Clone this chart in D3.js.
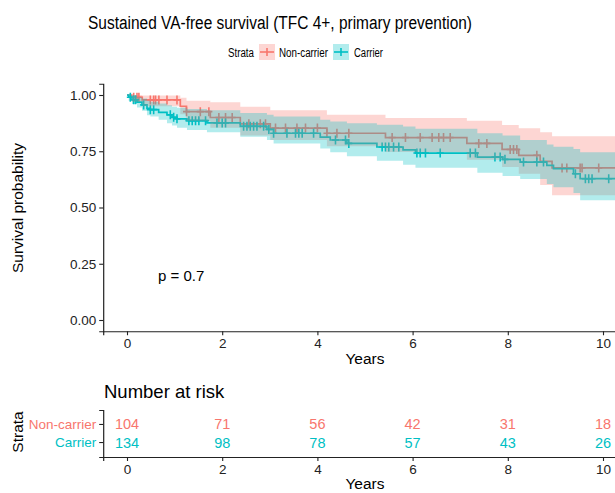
<!DOCTYPE html>
<html>
<head>
<meta charset="utf-8">
<script src="https://cdn.jsdelivr.net/npm/d3@7"></script>
<style>
  body { margin: 0; background: #fff; }
  svg { display: block; font-family: "Liberation Sans", Arial, sans-serif; }
</style>
</head>
<body>
<svg id="chart" width="615" height="493"></svg>
<script>
// Kaplan-Meier steps: [time, surv, lower, upper]
const nonCarrierSteps = [
    [0, 1, 1, 1],
    [0.1, 0.99, 0.97, 1.0],
    [0.32, 0.978, 0.95, 0.998],
    [1.12, 0.95, 0.915, 0.988],
    [1.25, 0.926, 0.885, 0.975],
    [1.75, 0.9, 0.855, 0.968],
    [2.38, 0.872, 0.82, 0.948],
    [3.01, 0.853, 0.8, 0.932],
    [4.2, 0.83, 0.772, 0.912],
    [5.43, 0.811, 0.747, 0.898],
    [7.14, 0.785, 0.712, 0.886],
    [7.88, 0.758, 0.68, 0.867],
    [8.23, 0.732, 0.65, 0.852],
    [8.68, 0.705, 0.6, 0.835],
    [8.93, 0.676, 0.555, 0.817]
];
const carrierSteps = [
    [0, 1, 1, 1],
    [0.035, 0.99, 0.975, 1.0],
    [0.105, 0.979, 0.96, 0.998],
    [0.21, 0.968, 0.945, 0.99],
    [0.315, 0.956, 0.93, 0.985],
    [0.42, 0.941, 0.91, 0.975],
    [0.49, 0.935, 0.905, 0.97],
    [0.665, 0.923, 0.89, 0.962],
    [0.84, 0.912, 0.875, 0.955],
    [0.945, 0.901, 0.865, 0.948],
    [1.05, 0.894, 0.855, 0.943],
    [1.26, 0.886, 0.845, 0.938],
    [1.68, 0.876, 0.835, 0.932],
    [2.38, 0.861, 0.815, 0.92],
    [2.94, 0.847, 0.8, 0.912],
    [3.08, 0.83, 0.785, 0.905],
    [4.06, 0.813, 0.762, 0.89],
    [4.27, 0.8, 0.746, 0.882],
    [4.62, 0.785, 0.728, 0.875],
    [5.25, 0.769, 0.708, 0.868],
    [5.8, 0.756, 0.69, 0.86],
    [6.06, 0.742, 0.677, 0.85],
    [7.36, 0.724, 0.655, 0.83],
    [7.89, 0.714, 0.64, 0.82],
    [8.26, 0.702, 0.627, 0.8],
    [8.82, 0.687, 0.605, 0.78],
    [8.96, 0.673, 0.59, 0.77],
    [9.38, 0.65, 0.565, 0.76],
    [9.52, 0.628, 0.532, 0.746]
];
// censoring times
const nonCarrierCensor = [0.14, 0.21, 0.25, 0.49, 0.56, 0.6, 0.67, 0.84, 1.05, 1.25, 1.54, 1.72, 1.93, 2.07, 2.21,
    2.56, 2.8, 2.91, 3.12, 3.33, 3.57, 3.75, 4.0, 4.2, 4.41, 4.66, 5.57, 5.85, 6.16, 6.41, 6.55, 6.65, 6.79,
    7.39, 7.56, 8.05, 8.12, 8.19, 8.61, 9.14, 9.24, 9.52, 9.56, 9.91];
const carrierCensor = [0.07, 0.14, 0.18, 0.35, 0.49, 0.56, 0.91, 0.98, 1.05, 1.3, 1.37, 1.44, 1.51, 1.65, 1.89,
    2.0, 2.07, 2.45, 2.52, 2.59, 2.66, 2.73, 2.87, 2.98, 3.08, 3.36, 3.54, 3.61, 3.68, 3.92, 4.38, 4.59, 4.66,
    5.36, 5.43, 5.5, 5.6, 5.71, 6.09, 6.16, 6.27, 6.58, 7.21, 7.32, 7.73, 7.84, 7.94, 8.33, 8.61, 8.75,
    9.42, 9.63, 9.7, 9.77, 10.12];

const strataNames = ["Non-carrier", "Carrier"];
const riskTimes = [0, 2, 4, 6, 8, 10];
const riskNonCarrier = [104, 71, 56, 42, 31, 18];
const riskCarrier = [134, 98, 78, 57, 43, 26];
const yTicks = [0, 0.25, 0.5, 0.75, 1];

const colors = { "Non-carrier": "#F8766D", "Carrier": "#00BFC4" };
const tMax = 11.5;

const svg = d3.select("#chart");

const x = d3.scaleLinear().domain([-0.5, tMax]).range([103.2, 103.2 + 12 * 47.6]);
const y = d3.scaleLinear().domain([-0.05, 1.05]).range([331.25, 83.75]);

const series = [
    { name: "Non-carrier", steps: nonCarrierSteps, censor: nonCarrierCensor },
    { name: "Carrier", steps: carrierSteps, censor: carrierCensor }
];

// extend last step to the right edge
series.forEach((s) => {
    const last = s.steps[s.steps.length - 1];
    s.pts = s.steps.concat([[tMax, last[1], last[2], last[3]]]);
});

const survAt = (steps, t) => {
    let v = steps[0][1];
    steps.forEach((d) => { if (d[0] <= t) v = d[1]; });
    return v;
};

// title (the original font runs narrower than Liberation Sans)
svg.append("text")
    .attr("x", 88).attr("y", 29)
    .attr("font-size", 18)
    .attr("textLength", 384).attr("lengthAdjust", "spacingAndGlyphs")
    .attr("fill", "#000")
    .text("Sustained VA-free survival (TFC 4+, primary prevention)");

// legend
const legend = svg.append("g").attr("transform", "translate(0,52)");
legend.append("text").attr("x", 228).attr("y", 4.5).attr("font-size", 12.5)
    .attr("textLength", 26).attr("lengthAdjust", "spacingAndGlyphs").text("Strata");
const legendItems = [
    { name: "Non-carrier", kx: 259, tx: 279, w: 49 },
    { name: "Carrier", kx: 333, tx: 354, w: 29 }
];
legendItems.forEach((it) => {
    legend.append("rect").attr("x", it.kx).attr("y", -8).attr("width", 16).attr("height", 16)
        .attr("fill", colors[it.name]).attr("fill-opacity", 0.3);
    legend.append("line").attr("x1", it.kx + 1).attr("x2", it.kx + 15).attr("y1", 0).attr("y2", 0)
        .attr("stroke", colors[it.name]).attr("stroke-width", 1.6);
    legend.append("line").attr("x1", it.kx + 8).attr("x2", it.kx + 8).attr("y1", -4).attr("y2", 4)
        .attr("stroke", colors[it.name]).attr("stroke-width", 1.6);
    legend.append("text").attr("x", it.tx).attr("y", 4.5).attr("font-size", 12.5)
        .attr("textLength", it.w).attr("lengthAdjust", "spacingAndGlyphs").text(it.name);
});

// plot area
svg.append("clipPath").attr("id", "clip")
    .append("rect").attr("x", 103).attr("y", 60).attr("width", 520).attr("height", 280);
const plot = svg.append("g").attr("clip-path", "url(#clip)");

const line = d3.line().curve(d3.curveStepAfter).x((d) => x(d[0])).y((d) => y(d[1]));
const area = d3.area().curve(d3.curveStepAfter).x((d) => x(d[0])).y0((d) => y(d[2])).y1((d) => y(d[3]));

series.forEach((s) => {
    plot.append("path").datum(s.pts).attr("d", line)
        .attr("fill", "none").attr("stroke", colors[s.name]).attr("stroke-width", 1.7);
    plot.append("g").selectAll("path").data(s.censor).join("path")
        .attr("d", (t) => {
            const cx = x(t), cy = y(survAt(s.steps, t));
            return `M${cx - 3.5},${cy}H${cx + 3.5}M${cx},${cy - 4.5}V${cy + 4.5}`;
        })
        .attr("stroke", colors[s.name]).attr("stroke-width", 1.6);
});
series.forEach((s) => {
    plot.append("path").datum(s.pts).attr("d", area)
        .attr("fill", colors[s.name]).attr("fill-opacity", 0.3).attr("stroke", "none");
});

// axes
const axisStyle = (g) => {
    g.select(".domain").attr("stroke", "#222").attr("stroke-width", 1.2);
    g.selectAll(".tick line").attr("stroke", "#222").attr("stroke-width", 1.1);
    g.selectAll(".tick text").attr("fill", "#222").attr("font-size", 13.5)
        .attr("font-family", "Liberation Sans, Arial, sans-serif");
};

svg.append("g").attr("transform", "translate(103.2,0)")
    .call(d3.axisLeft(y).tickValues(yTicks).tickFormat(d3.format(".2f")).tickSizeOuter(0).tickSize(4).tickPadding(3))
    .call(axisStyle);
svg.append("g").attr("transform", "translate(0,331.25)")
    .call(d3.axisBottom(x).tickValues(riskTimes).tickSizeOuter(0).tickSize(4).tickPadding(3))
    .call(axisStyle);

svg.append("text").attr("x", 365).attr("y", 364).attr("text-anchor", "middle")
    .attr("font-size", 15.5).text("Years");
svg.append("text").attr("transform", "translate(23,208) rotate(-90)").attr("text-anchor", "middle")
    .attr("font-size", 15.5).text("Survival probability");
svg.append("text").attr("x", 158).attr("y", 281).attr("font-size", 15).text("p = 0.7");

// number at risk table
svg.append("text").attr("x", 104).attr("y", 398).attr("font-size", 18.5).text("Number at risk");

const yRisk = d3.scaleBand().domain(strataNames).range([410, 457]).paddingInner(0.1).paddingOuter(0.35);
const riskData = [
    { name: "Non-carrier", values: riskNonCarrier },
    { name: "Carrier", values: riskCarrier }
];
const table = svg.append("g");
riskData.forEach((r) => {
    table.append("g").selectAll("text").data(r.values).join("text")
        .attr("x", (d, i) => x(riskTimes[i]))
        .attr("y", yRisk(r.name) + yRisk.bandwidth() / 2 + 5)
        .attr("text-anchor", "middle")
        .attr("font-size", 14.5)
        .attr("fill", colors[r.name])
        .text((d) => d);
});

const yRiskAxis = svg.append("g").attr("transform", "translate(103.2,0)")
    .call(d3.axisLeft(yRisk).tickSizeOuter(0).tickSize(4).tickPadding(3))
    .call(axisStyle);
yRiskAxis.selectAll(".tick text").attr("fill", (d) => colors[d]).attr("font-size", 13.5);

svg.append("g").attr("transform", "translate(0,457)")
    .call(d3.axisBottom(x).tickValues(riskTimes).tickSizeOuter(0).tickSize(4).tickPadding(3))
    .call(axisStyle);

svg.append("text").attr("x", 365).attr("y", 489).attr("text-anchor", "middle")
    .attr("font-size", 15.5).text("Years");
svg.append("text").attr("transform", "translate(23,432) rotate(-90)").attr("text-anchor", "middle")
    .attr("font-size", 15.5).text("Strata");
</script>
</body>
</html>
